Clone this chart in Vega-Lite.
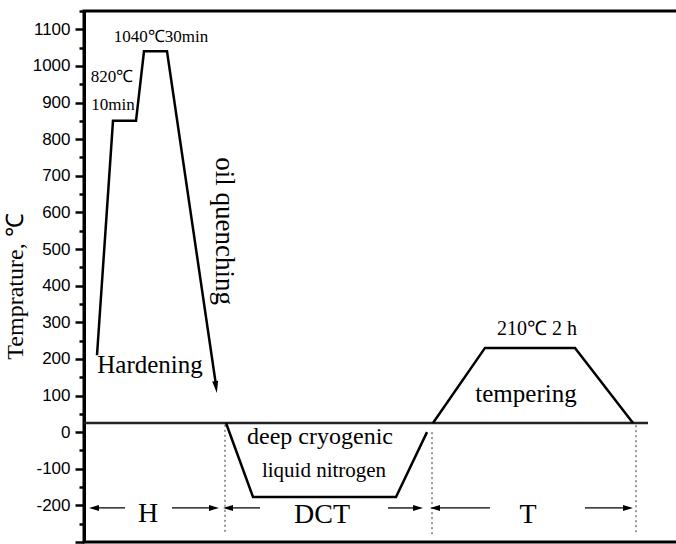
{
  "$schema": "https://vega.github.io/schema/vega-lite/v6.json",
  "width": 600,
  "height": 531,
  "autosize": "none",
  "padding": {"left": 84, "top": 11, "right": 0, "bottom": 2},
  "background": "white",
  "config": {"view": {"stroke": "black", "strokeWidth": 3}},
  "datasets": {
    "profile": [
      {"seg": "H", "o": 1, "x": 13, "y": 210},
      {"seg": "H", "o": 2, "x": 29, "y": 850},
      {"seg": "H", "o": 3, "x": 52, "y": 850},
      {"seg": "H", "o": 4, "x": 60, "y": 1040},
      {"seg": "H", "o": 5, "x": 83, "y": 1040},
      {"seg": "H", "o": 6, "x": 132, "y": 128},
      {"seg": "DCT", "o": 1, "x": 142, "y": 25},
      {"seg": "DCT", "o": 2, "x": 169, "y": -177},
      {"seg": "DCT", "o": 3, "x": 312, "y": -177},
      {"seg": "DCT", "o": 4, "x": 343, "y": 0},
      {"seg": "T", "o": 1, "x": 349, "y": 25},
      {"seg": "T", "o": 2, "x": 401, "y": 230},
      {"seg": "T", "o": 3, "x": 491, "y": 230},
      {"seg": "T", "o": 4, "x": 549, "y": 25}
    ],
    "baseline": [
      {"x": 0, "y": 25},
      {"x": 564, "y": 25}
    ],
    "guides": [
      {"x": 141, "y": 20, "y2": -280},
      {"x": 348, "y": 0, "y2": -280},
      {"x": 552, "y": 19, "y2": -280}
    ],
    "shafts": [
      {"x": 8, "x2": 41, "y": -207},
      {"x": 88, "x2": 132, "y": -207},
      {"x": 142, "x2": 176, "y": -207},
      {"x": 304, "x2": 336, "y": -207},
      {"x": 349, "x2": 406, "y": -207},
      {"x": 501, "x2": 546, "y": -207}
    ],
    "heads": [
      {"dir": "left", "x": 10, "y": -207},
      {"dir": "right", "x": 130, "y": -207},
      {"dir": "left", "x": 144, "y": -207},
      {"dir": "right", "x": 334, "y": -207},
      {"dir": "left", "x": 351, "y": -207},
      {"dir": "right", "x": 544, "y": -207},
      {"dir": "down", "x": 132, "y": 123}
    ],
    "labels": [
      {"grp": "small", "text": "1040℃30min", "x": 77, "y": 1065},
      {"grp": "small", "text": "820℃", "x": 28, "y": 956},
      {"grp": "small", "text": "10min", "x": 29, "y": 880},
      {"grp": "note", "text": "210℃ 2 h", "x": 453, "y": 265},
      {"grp": "mid", "text": "Hardening", "x": 66, "y": 161},
      {"grp": "mid", "text": "tempering", "x": 442, "y": 82},
      {"grp": "deep", "text": "deep cryogenic", "x": 236, "y": -32},
      {"grp": "liquid", "text": "liquid nitrogen", "x": 240, "y": -122},
      {"grp": "big", "text": "DCT", "x": 238, "y": -248},
      {"grp": "big", "text": "T", "x": 444, "y": -248},
      {"grp": "big", "text": "H", "x": 64, "y": -246},
      {"grp": "oil", "text": "oil quenching", "x": 140, "y": 549}
    ]
  },
  "encoding": {
    "x": {"field": "x", "type": "quantitative", "scale": {"domain": [0, 600], "nice": false, "zero": false}, "axis": null},
    "y": {
      "field": "y",
      "type": "quantitative",
      "scale": {"domain": [-300, 1150], "nice": false, "zero": false},
      "axis": {
        "values": [-300, -250, -200, -150, -100, -50, 0, 50, 100, 150, 200, 250, 300, 350, 400, 450, 500, 550, 600, 650, 700, 750, 800, 850, 900, 950, 1000, 1050, 1100, 1150],
        "labelExpr": "(datum.value % 100 === 0 && datum.value >= -200 && datum.value <= 1100) ? ('' + datum.value) : ''",
        "tickSize": {"condition": {"test": "datum.value % 100 === 0", "value": 9}, "value": 5},
        "tickWidth": 2.5,
        "tickColor": "black",
        "domainColor": "black",
        "domainWidth": 3,
        "grid": false,
        "labelFont": "Liberation Sans",
        "labelFontSize": 17,
        "labelColor": "black",
        "labelPadding": 5,
        "title": "Temprature, ℃",
        "titleFont": "Liberation Serif",
        "titleFontSize": 24,
        "titleFontWeight": "normal",
        "titleColor": "black",
        "titlePadding": 5,
        "titleY": 275
      }
    }
  },
  "layer": [
    {
      "data": {"name": "baseline"},
      "mark": {"type": "line", "color": "#222222", "strokeWidth": 2.5},
      "encoding": {}
    },
    {
      "data": {"name": "profile"},
      "mark": {"type": "line", "color": "black", "strokeWidth": 2.5, "strokeJoin": "miter"},
      "encoding": {"detail": {"field": "seg"}, "order": {"field": "o", "type": "quantitative"}}
    },
    {
      "data": {"name": "guides"},
      "mark": {"type": "rule", "color": "#333333", "strokeWidth": 1, "strokeDash": [2, 3]},
      "encoding": {"y2": {"field": "y2"}}
    },
    {
      "data": {"name": "shafts"},
      "mark": {"type": "rule", "color": "black", "strokeWidth": 1.3},
      "encoding": {"x2": {"field": "x2"}}
    },
    {
      "data": {"name": "heads"},
      "mark": {"type": "point", "filled": true, "color": "black", "size": 100, "opacity": 1, "strokeWidth": 0},
      "encoding": {
        "shape": {
          "field": "dir",
          "type": "nominal",
          "scale": {
            "domain": ["left", "right", "down"],
            "range": ["M-1,0L1,-0.6L1,0.6Z", "M1,0L-1,-0.6L-1,0.6Z", "M0.167,1.188L-0.761,-1.104L0.427,-1.272Z"]
          },
          "legend": null
        }
      }
    },
    {
      "data": {"name": "labels"},
      "transform": [{"filter": "datum.grp === 'small'"}],
      "mark": {"type": "text", "font": "Liberation Serif", "fontSize": 17, "color": "black", "align": "center", "baseline": "alphabetic"},
      "encoding": {"text": {"field": "text"}}
    },
    {
      "data": {"name": "labels"},
      "transform": [{"filter": "datum.grp === 'note'"}],
      "mark": {"type": "text", "font": "Liberation Serif", "fontSize": 20, "color": "black", "align": "center", "baseline": "alphabetic"},
      "encoding": {"text": {"field": "text"}}
    },
    {
      "data": {"name": "labels"},
      "transform": [{"filter": "datum.grp === 'mid'"}],
      "mark": {"type": "text", "font": "Liberation Serif", "fontSize": 25, "color": "black", "align": "center", "baseline": "alphabetic"},
      "encoding": {"text": {"field": "text"}}
    },
    {
      "data": {"name": "labels"},
      "transform": [{"filter": "datum.grp === 'deep'"}],
      "mark": {"type": "text", "font": "Liberation Serif", "fontSize": 24, "color": "black", "align": "center", "baseline": "alphabetic"},
      "encoding": {"text": {"field": "text"}}
    },
    {
      "data": {"name": "labels"},
      "transform": [{"filter": "datum.grp === 'liquid'"}],
      "mark": {"type": "text", "font": "Liberation Serif", "fontSize": 21, "color": "black", "align": "center", "baseline": "alphabetic"},
      "encoding": {"text": {"field": "text"}}
    },
    {
      "data": {"name": "labels"},
      "transform": [{"filter": "datum.grp === 'big'"}],
      "mark": {"type": "text", "font": "Liberation Serif", "fontSize": 28, "color": "black", "align": "center", "baseline": "alphabetic"},
      "encoding": {"text": {"field": "text"}}
    },
    {
      "data": {"name": "labels"},
      "transform": [{"filter": "datum.grp === 'oil'"}],
      "mark": {"type": "text", "font": "Liberation Serif", "fontSize": 27, "color": "black", "align": "center", "baseline": "middle", "angle": 90},
      "encoding": {"text": {"field": "text"}}
    }
  ]
}
